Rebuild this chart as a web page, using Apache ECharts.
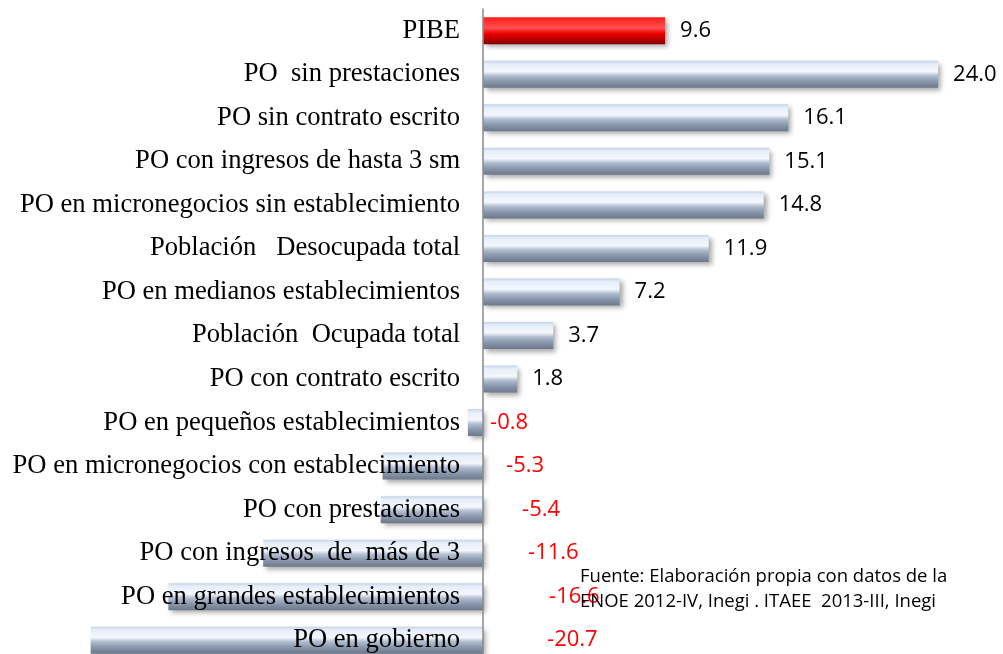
<!DOCTYPE html>
<html><head><meta charset="utf-8">
<script src="https://cdn.jsdelivr.net/npm/echarts@6/dist/echarts.min.js"></script>
<style>html,body{margin:0;padding:0;background:#fff}#c{width:1003px;height:654px}</style>
</head><body><div id="c"></div>
<script>
const categories = [
  "PIBE",
  "PO  sin prestaciones",
  "PO sin contrato escrito",
  "PO con ingresos de hasta 3 sm",
  "PO en micronegocios sin establecimiento",
  "Población   Desocupada total",
  "PO en medianos establecimientos",
  "Población  Ocupada total",
  "PO con contrato escrito",
  "PO en pequeños establecimientos",
  "PO en micronegocios con establecimiento",
  "PO con prestaciones",
  "PO con ingresos  de  más de 3",
  "PO en grandes establecimientos",
  "PO en gobierno"
];
const values = [9.6, 24.0, 16.1, 15.1, 14.8, 11.9, 7.2, 3.7, 1.8, -0.8, -5.3, -5.4, -11.6, -16.6, -20.7];
const negLabelShift = [0, 0, 0, 0, 0, 0, 0, 0, 0, -8, 8, 24, 30, 51, 49];
const sourceLines = ["Fuente: Elaboración propia con datos de la", "ENOE 2012-IV, Inegi . ITAEE  2013-III, Inegi"];

const X_MIN = -22, X_MAX = 26;
const GRID_LEFT = 66, GRID_RIGHT = 27, W = 1003;
const zeroOffset = (W - GRID_LEFT - GRID_RIGHT) * (0 - X_MIN) / (X_MAX - X_MIN);

const silver = new echarts.graphic.LinearGradient(0, 0, 0, 1, [
  {offset: 0, color: '#c4d3e8'},
  {offset: 0.12, color: '#e6eef9'},
  {offset: 0.4, color: '#f4f8fd'},
  {offset: 0.55, color: '#b2bfd1'},
  {offset: 0.75, color: '#8b99ae'},
  {offset: 1, color: '#6c788b'}
]);
const red = new echarts.graphic.LinearGradient(0, 0, 0, 1, [
  {offset: 0, color: '#ff1a1a'},
  {offset: 0.15, color: '#ff3030'},
  {offset: 0.4, color: '#ff5050'},
  {offset: 0.6, color: '#ee0000'},
  {offset: 0.85, color: '#b00000'},
  {offset: 1, color: '#800000'}
]);

const data = values.map((v, i) => {
  const item = {value: v, itemStyle: {color: i === 0 ? red : silver}};
  if (v < 0) {
    item.label = {color: '#ff0000', offset: [negLabelShift[i], 0]};
  }
  return item;
});

const chart = echarts.init(document.getElementById('c'));
chart.setOption({
  animation: false,
  grid: {left: GRID_LEFT, right: GRID_RIGHT, top: 9, height: 653, containLabel: false, outerBoundsMode: 'none'},
  xAxis: {
    type: 'value', min: X_MIN, max: X_MAX, show: false
  },
  yAxis: {
    type: 'category', data: categories, inverse: true, z: 10,
    position: 'left', offset: -zeroOffset,
    axisLine: {show: true, onZero: false, lineStyle: {color: '#8a8a8a', width: 1.5}},
    axisTick: {show: false},
    axisLabel: {
      fontFamily: '"Liberation Serif", "Times New Roman", serif',
      fontSize: 26.6, color: '#000', margin: 23
    }
  },
  series: [{
    type: 'bar', data: data, barWidth: 27,
    itemStyle: {
      shadowColor: 'rgba(0,0,0,0.35)', shadowBlur: 5, shadowOffsetX: 3, shadowOffsetY: 3
    },
    label: {
      show: true, position: 'right', distance: 15,
      fontFamily: '"Open Sans", "Liberation Sans", sans-serif',
      fontSize: 22, color: '#000',
      formatter: p => p.value.toFixed(1)
    }
  }],
  graphic: [{
    type: 'text', left: 580, top: 564,
    style: {
      text: sourceLines.join('\n'),
      font: '18.5px "Open Sans", "Liberation Sans", sans-serif',
      fill: '#000', lineHeight: 25
    },
    z: 100
  }]
});
</script></body></html>
